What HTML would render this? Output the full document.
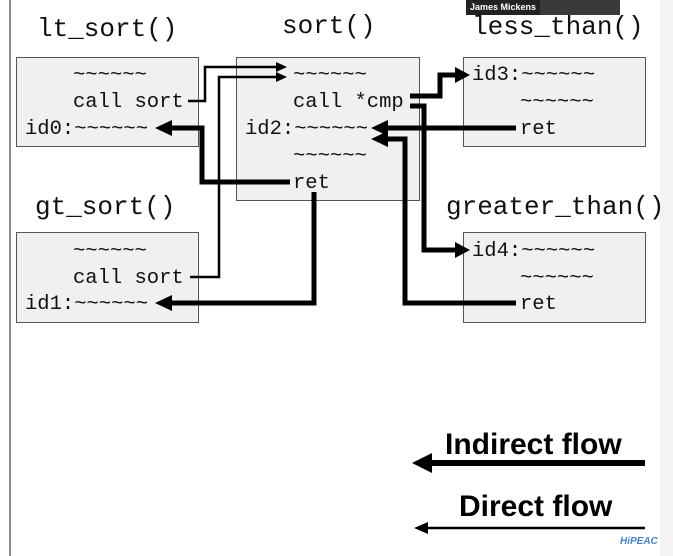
<!DOCTYPE html>
<html><head><style>
body{margin:0;background:#fff;width:673px;height:556px;overflow:hidden;position:relative}
svg{position:absolute;left:0;top:0}
</style></head><body>
<svg width="673" height="556" viewBox="0 0 673 556" xmlns="http://www.w3.org/2000/svg">
<rect x="0" y="0" width="673" height="556" fill="#fff"/>
<rect x="660" y="0" width="13" height="556" fill="#f3f3f3"/>
<line x1="10" y1="0" x2="10" y2="556" stroke="#666" stroke-width="1.5"/>
<rect x="466" y="0" width="150" height="15" fill="#222"/>
<rect x="540" y="0" width="80" height="15" fill="#3a3a3a"/>
<text x="470" y="10" font-family="Liberation Sans, sans-serif" font-size="9" font-weight="bold" fill="#fff">James Mickens</text>
<g fill="#f0f0f0" stroke="#555" stroke-width="1">
<rect x="16.5" y="57.5" width="182" height="89"/>
<rect x="16.5" y="232.5" width="182" height="90"/>
<rect x="236.5" y="57.5" width="183" height="143"/>
<rect x="463.5" y="57.5" width="182" height="89"/>
<rect x="463.5" y="232.5" width="182" height="90"/>
</g>
<g font-family="Liberation Mono, monospace" font-size="26" fill="#111">
<text x="37" y="36">lt_sort()</text>
<text x="282" y="33">sort()</text>
<text x="472" y="34">less_than()</text>
<text x="35" y="214">gt_sort()</text>
<text x="446" y="214">greater_than()</text>
</g>
<g font-family="Liberation Mono, monospace" font-size="20.5" fill="#111">
<text x="73" y="80">~~~~~~</text>
<text x="73" y="107">call sort</text>
<text x="25" y="134">id0:~~~~~~</text>
<text x="73" y="256">~~~~~~</text>
<text x="73" y="283">call sort</text>
<text x="25" y="309">id1:~~~~~~</text>
<text x="293" y="80">~~~~~~</text>
<text x="293" y="107">call *cmp</text>
<text x="245" y="134">id2:~~~~~~</text>
<text x="293" y="161">~~~~~~</text>
<text x="293" y="188">ret</text>
<text x="472" y="80">id3:~~~~~~</text>
<text x="520" y="107">~~~~~~</text>
<text x="520" y="134">ret</text>
<text x="472" y="256">id4:~~~~~~</text>
<text x="520" y="283">~~~~~~</text>
<text x="520" y="309">ret</text>
</g>
<g fill="none" stroke="#000" stroke-linejoin="miter">
<polyline points="188,101 205,101 205,67 278,67" stroke-width="2.5"/>
<polyline points="190,277 219,277 219,77 278,77" stroke-width="2.5"/>
<polyline points="290,182 202,182 202,128 170,128" stroke-width="5"/>
<polyline points="314,192 314,303 170,303" stroke-width="5"/>
<polyline points="410,96 440,96 440,75 458,75" stroke-width="5"/>
<polyline points="410,106 424,106 424,250 458,250" stroke-width="5"/>
<polyline points="516,128 386,128" stroke-width="5"/>
<polyline points="516,303 405,303 405,139 386,139" stroke-width="5"/>
<line x1="645" y1="463" x2="428" y2="463" stroke-width="6"/>
<line x1="645" y1="528" x2="425" y2="528" stroke-width="2.5"/>
</g>
<g fill="#000">
<polygon points="287,67 276,62 276,72"/>
<polygon points="287,77 276,72 276,82"/>
<polygon points="155,128 172,120 172,136"/>
<polygon points="155,303 172,295 172,311"/>
<polygon points="470,75 455,67 455,83"/>
<polygon points="470,250 455,242 455,258"/>
<polygon points="371,128 388,120 388,136"/>
<polygon points="371,139 388,131 388,147"/>
<polygon points="412,463 432,453 432,473"/>
<polygon points="414,528 428,522 428,534"/>
</g>
<g font-family="Liberation Sans, sans-serif" font-weight="bold" fill="#000" font-size="30">
<text x="445" y="454">Indirect flow</text>
<text x="459" y="516">Direct flow</text>
</g>
<text x="620" y="544" font-family="Liberation Sans, sans-serif" font-size="10" font-weight="bold" font-style="italic" fill="#4a7fc0">HiPEAC</text>
</svg>
</body></html>
